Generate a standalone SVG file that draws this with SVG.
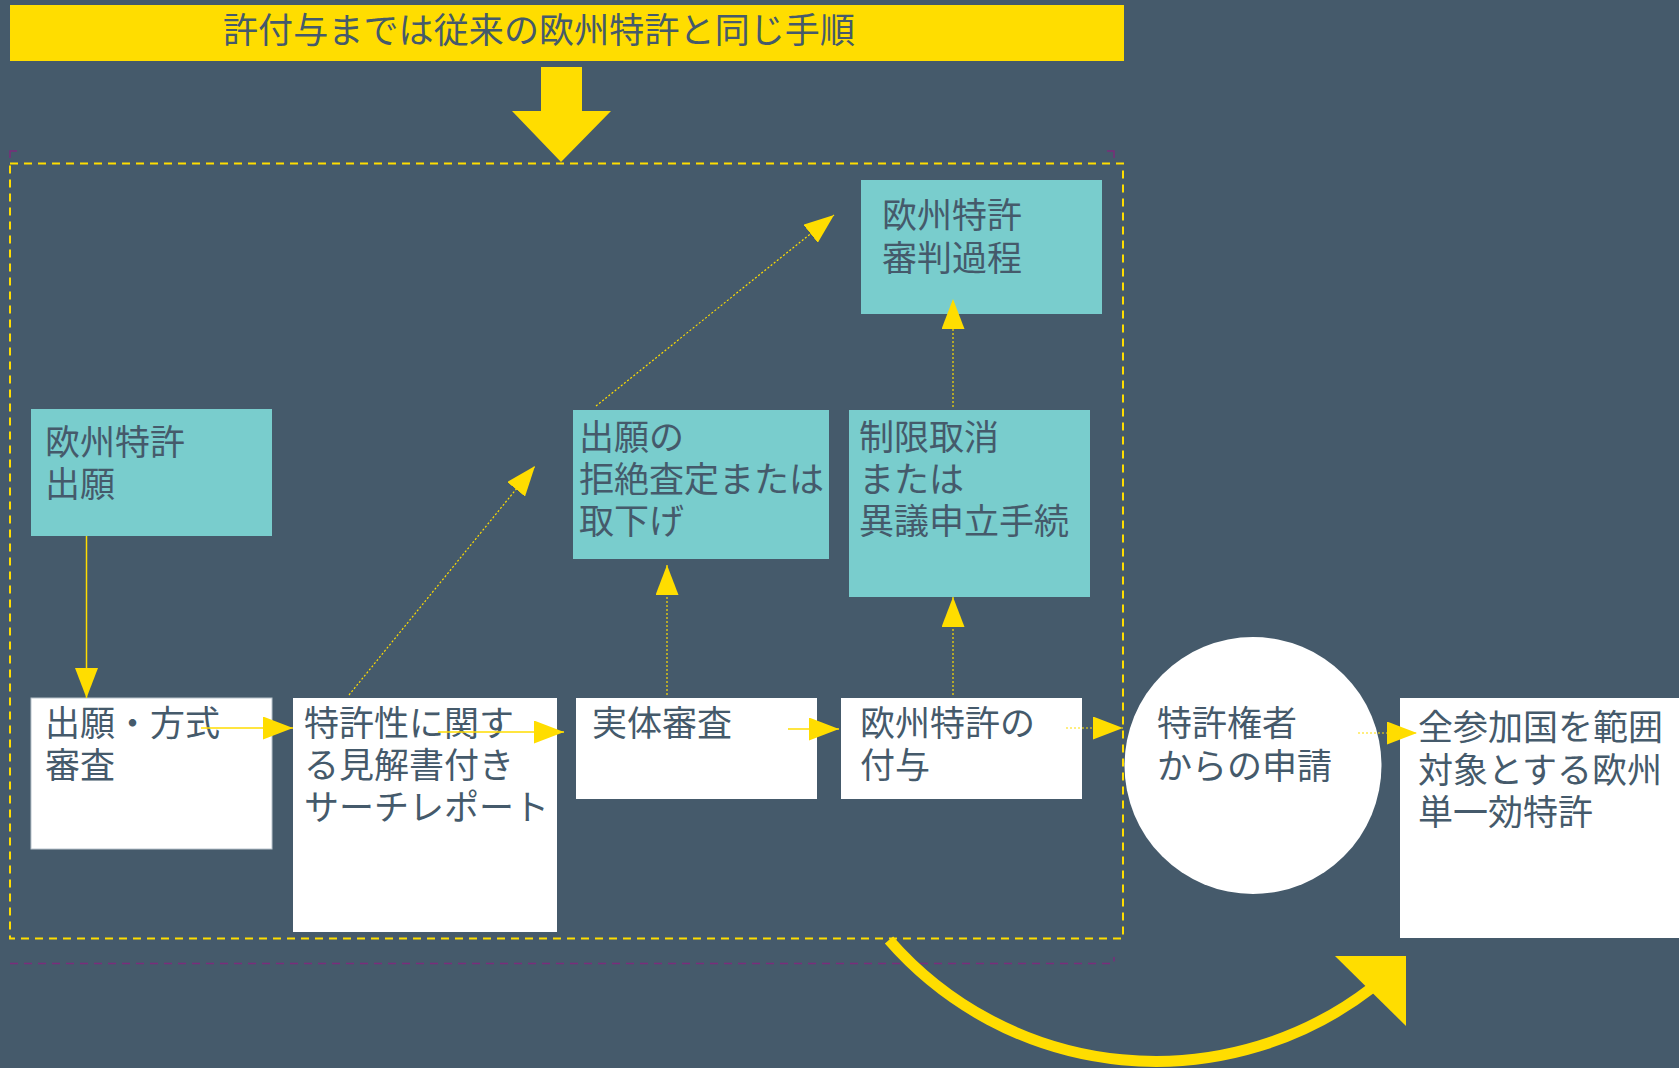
<svg xmlns="http://www.w3.org/2000/svg" width="1679" height="1068" viewBox="0 0 1679 1068">
<defs>
<style>
.t{font-family:"Noto Sans CJK JP","Noto Sans",sans-serif;font-size:35px;fill:#455a6b}
.teal{fill:#79cdcd}
.wht{fill:#ffffff}
.solid{stroke:#ffdd00;stroke-width:1.5;fill:none}
.dot{stroke:#ffdd00;stroke-width:1.2;stroke-dasharray:2 2;fill:none}
</style>
<marker id="ah" markerUnits="userSpaceOnUse" markerWidth="31" markerHeight="23" refX="30" refY="11.5" orient="auto" viewBox="0 0 31 23">
<path d="M0,0 L30,11.5 L0,23 z" fill="#ffdd00"/>
</marker>
</defs>
<rect x="0" y="0" width="1679" height="1068" fill="#455a6b"/>

<g id="title">
<rect x="10" y="5" width="1114" height="56" fill="#ffdd00"/>
<text class="t" x="223" y="43" textLength="632">許付与までは従来の欧州特許と同じ手順</text>
</g>
<g id="big-down-arrow">
<polygon points="541,67 582,67 582,111 611,111 561,162 512,111 541,111" fill="#ffdd00"/>
</g>

<g id="frame">
<path d="M10,963.5 H1114 V957" fill="none" stroke="#7b2d7b" stroke-width="1.5" stroke-dasharray="8 6"/>
<path d="M10,158 V151 H17 M1107,151 H1114 V158" fill="none" stroke="#7b2d7b" stroke-width="1.5"/>
<rect x="10" y="163.5" width="1113" height="775" fill="none" stroke="#ffdd00" stroke-width="2" stroke-dasharray="8 6"/>
</g>

<g id="n-app">
<rect class="teal" x="31" y="409" width="241" height="127"/>
<text class="t"><tspan x="45" y="455">欧州特許</tspan><tspan x="45" y="497">出願</tspan></text>
</g>
<g id="n-appeal">
<rect class="teal" x="861" y="180" width="241" height="134"/>
<text class="t"><tspan x="882" y="228">欧州特許</tspan><tspan x="882" y="271">審判過程</tspan></text>
</g>
<g id="n-refusal">
<rect class="teal" x="573" y="410" width="256" height="149"/>
<text class="t"><tspan x="579" y="450">出願の</tspan><tspan x="579" y="492">拒絶査定または</tspan><tspan x="579" y="534">取下げ</tspan></text>
</g>
<g id="n-opposition">
<rect class="teal" x="849" y="410" width="241" height="187"/>
<text class="t"><tspan x="859" y="450">制限取消</tspan><tspan x="859" y="492">または</tspan><tspan x="859" y="534">異議申立手続</tspan></text>
</g>
<g id="n-formal">
<rect class="wht" x="31" y="698" width="241" height="151" stroke="#b9c3cc" stroke-width="1"/>
<text class="t"><tspan x="45" y="736">出願・方式</tspan><tspan x="45" y="778">審査</tspan></text>
</g>
<g id="n-search">
<rect class="wht" x="293" y="698" width="264" height="234"/>
<text class="t"><tspan x="304" y="736">特許性に関す</tspan><tspan x="304" y="778">る見解書付き</tspan><tspan x="304" y="820">サーチレポート</tspan></text>
</g>
<g id="n-exam">
<rect class="wht" x="576" y="698" width="241" height="101"/>
<text class="t" x="592" y="736">実体審査</text>
</g>
<g id="n-grant">
<rect class="wht" x="841" y="698" width="241" height="101"/>
<text class="t"><tspan x="860" y="736">欧州特許の</tspan><tspan x="860" y="778">付与</tspan></text>
</g>
<g id="n-request">
<circle class="wht" cx="1253" cy="765.5" r="128.5"/>
<text class="t"><tspan x="1157" y="736">特許権者</tspan><tspan x="1157" y="779">からの申請</tspan></text>
</g>
<g id="n-unitary">
<rect class="wht" x="1400" y="698" width="279" height="240"/>
<text class="t"><tspan x="1418" y="740">全参加国を範囲</tspan><tspan x="1418" y="783">対象とする欧州</tspan><tspan x="1418" y="825">単一効特許</tspan></text>
</g>

<g id="connectors">
<line class="solid" x1="86.5" y1="536" x2="86.5" y2="698" marker-end="url(#ah)"/>
<line class="solid" x1="201" y1="728" x2="293" y2="728" marker-end="url(#ah)"/>
<line class="solid" x1="438" y1="732" x2="564" y2="732" marker-end="url(#ah)"/>
<line class="solid" x1="788" y1="729" x2="839" y2="729" marker-end="url(#ah)"/>
<line class="dot" x1="1066" y1="728" x2="1123" y2="728" marker-end="url(#ah)"/>
<line class="dot" x1="1358" y1="733" x2="1417" y2="733" marker-end="url(#ah)"/>
<line class="dot" x1="349" y1="695" x2="535" y2="466" marker-end="url(#ah)"/>
<line class="dot" x1="667" y1="695" x2="667" y2="565" marker-end="url(#ah)"/>
<line class="dot" x1="953" y1="695" x2="953" y2="597" marker-end="url(#ah)"/>
<line class="dot" x1="953" y1="407" x2="953" y2="299" marker-end="url(#ah)"/>
<line class="dot" x1="596" y1="406" x2="834" y2="215" marker-end="url(#ah)"/>
<path d="M889,940 A354,354 0 0 0 1373,987" fill="none" stroke="#ffdd00" stroke-width="11"/>
<polygon points="1335,956 1406,956 1406,1026" fill="#ffdd00"/>
</g>
</svg>
